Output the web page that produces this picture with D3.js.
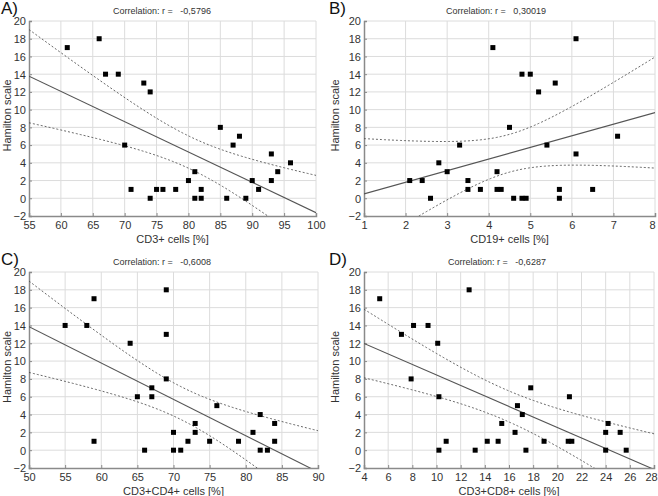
<!DOCTYPE html>
<html><head><meta charset="utf-8">
<script src="https://cdnjs.cloudflare.com/ajax/libs/d3/7.8.5/d3.min.js"></script>
<style>
body{margin:0;background:#fff;}
svg{display:block;font-family:"Liberation Sans",Arial,sans-serif;}
</style></head>
<body>
<svg id="c" width="658" height="496"></svg>
<script>
// Panel A: CD3+ cells
const cd3X = [61,66,67,69,73,74,70,71,74,75,76,78,80,81,81,82,82,85,86,87,88,89,90,91,93,93,94,96];
const cd3Y = [17,18,14,14,13,12,6,1,0,1,1,1,2,3,0,1,0,8,0,6,7,0,2,1,5,2,3,4];
// Panel B: CD19+ cells
const cd19X = [2.1,2.4,2.6,2.8,3.0,3.3,3.5,3.5,3.8,4.1,4.2,4.2,4.3,4.5,4.6,4.8,4.8,4.9,5.0,5.2,5.4,5.6,5.7,5.7,6.1,6.1,6.5,7.1];
const cd19Y = [2,2,0,4,3,6,2,1,1,17,3,1,1,8,0,14,0,0,14,12,6,13,1,0,18,5,1,7];
// Panel C: CD3+CD4+ cells
const cd4X = [55,58,59,59,64,65,66,67,67,69,69,69,70,70,71,72,73,73,75,76,79,81,82,82,83,84,84];
const cd4Y = [14,14,17,1,12,6,0,7,6,18,13,8,2,0,0,1,3,2,1,5,1,2,4,0,0,3,1];
// Panel D: CD3+CD8+ cells
const cd8X = [5.3,7.1,8.1,7.9,9.3,10.1,10.2,10.2,10.8,12.7,13.2,14.2,15.1,15.4,16.5,16.7,17.1,17.4,17.8,18.9,21.0,20.9,21.2,24.0,24.0,24.2,25.2,25.7];
const cd8Y = [17,13,14,8,14,12,6,0,1,18,0,1,1,3,2,5,4,0,7,1,6,1,1,2,0,3,2,0];

const panelLabels = ["A)","B)","C)","D)"];
const titles = ["Correlation: r =   -0,5796","Correlation: r =   0,30019","Correlation: r =   -0,6008","Correlation: r =   -0,6287"];
const xTitles = ["CD3+ cells [%]","CD19+ cells [%]","CD3+CD4+ cells [%]","CD3+CD8+ cells [%]"];
const yTitle = "Hamilton scale";
const xDomains = [[55,100],[1,8],[50,90],[4,28]];
const xTickVals = [
  [55,60,65,70,75,80,85,90,95,100],
  [1,2,3,4,5,6,7,8],
  [50,55,60,65,70,75,80,85,90],
  [4,6,8,10,12,14,16,18,20,22,24,26,28]
];
const yTickVals = [-2,0,2,4,6,8,10,12,14,16,18,20];

const xs = [cd3X,cd19X,cd4X,cd8X];
const ys = [cd3Y,cd19Y,cd4Y,cd8Y];

const layout = [
  {x0:29,x1:316,y0:21,y1:216,ox:0,oy:0,tx:162},
  {x0:364,x1:655,y0:21,y1:216,ox:328,oy:0,tx:496},
  {x0:29,x1:318,y0:272,y1:468,ox:0,oy:251,tx:162},
  {x0:364,x1:654,y0:272,y1:468,ox:328,oy:251,tx:497}
];

const tTable = {25:2.0595,26:2.0555};
const svg = d3.select("#c");
const axisCol = "#8a8a8a", gridCol = "#dcdcdc", textCol = "#333";

layout.forEach((L,i)=>{
  const X = xs[i], Y = ys[i], n = X.length;
  const x = d3.scaleLinear().domain(xDomains[i]).range([L.x0,L.x1]);
  const y = d3.scaleLinear().domain([-2,20]).range([L.y1,L.y0]);
  const g = svg.append("g");

  // grid
  g.selectAll(".gx").data(xTickVals[i].slice(1)).join("line")
    .attr("x1",d=>x(d)).attr("x2",d=>x(d)).attr("y1",L.y0).attr("y2",L.y1)
    .attr("stroke",gridCol).attr("stroke-width",1);
  g.selectAll(".gy").data(yTickVals.slice(1)).join("line")
    .attr("x1",L.x0).attr("x2",L.x1).attr("y1",d=>y(d)).attr("y2",d=>y(d))
    .attr("stroke",gridCol).attr("stroke-width",1);

  // axes
  const xa = g.append("g").attr("transform",`translate(0,${L.y1})`)
    .call(d3.axisBottom(x).tickValues(xTickVals[i]).tickSize(-3).tickPadding(5).tickFormat(d3.format("d")));
  const ya = g.append("g").attr("transform",`translate(${L.x0},0)`)
    .call(d3.axisLeft(y).tickValues(yTickVals).tickSize(-3).tickPadding(3).tickFormat(d3.format("d")));
  [xa,ya].forEach(a=>{
    a.select(".domain").attr("stroke",axisCol).attr("stroke-width",1.5);
    a.selectAll(".tick line").attr("stroke",axisCol);
    a.selectAll("text").attr("fill",textCol).attr("font-size",11).attr("font-family","Liberation Sans, Arial, sans-serif");
  });
  ya.selectAll("text").attr("dy","0.35em");
  // keep the last x tick label inside the window
  xa.selectAll(".tick text").filter(d=>x(d)+8>658).attr("dx",-3);

  // regression
  const mx = d3.mean(X), my = d3.mean(Y);
  let sxx=0,sxy=0;
  for(let k=0;k<n;k++){sxx+=(X[k]-mx)**2;sxy+=(X[k]-mx)*(Y[k]-my);}
  const b = sxy/sxx, a = my-b*mx;
  let sse=0; for(let k=0;k<n;k++){sse+=(Y[k]-a-b*X[k])**2;}
  const s = Math.sqrt(sse/(n-2));
  const t = tTable[n-2] || 2.06;

  const clipId = "clip"+i;
  svg.append("clipPath").attr("id",clipId).append("rect")
    .attr("x",L.x0).attr("y",L.y0).attr("width",L.x1-L.x0).attr("height",L.y1-L.y0);
  const cg = g.append("g").attr("clip-path",`url(#${clipId})`);

  const [d0,d1] = xDomains[i];
  const grid = d3.range(0,201).map(k=>d0+(d1-d0)*k/200);
  const fit = xv=>a+b*xv;
  const half = xv=>t*s*Math.sqrt(1/n+(xv-mx)**2/sxx);
  const line = d3.line().x(d=>x(d[0])).y(d=>y(d[1]));

  cg.append("path").datum([[d0,fit(d0)],[d1,fit(d1)]]).attr("d",line)
    .attr("fill","none").attr("stroke","#555").attr("stroke-width",1.1);
  cg.append("path").datum(grid.map(v=>[v,fit(v)+half(v)])).attr("d",line)
    .attr("fill","none").attr("stroke","#555").attr("stroke-width",0.9).attr("stroke-dasharray","2,2");
  cg.append("path").datum(grid.map(v=>[v,fit(v)-half(v)])).attr("d",line)
    .attr("fill","none").attr("stroke","#555").attr("stroke-width",0.9).attr("stroke-dasharray","2,2");

  // points
  g.selectAll(".pt").data(d3.range(n)).join("rect")
    .attr("x",k=>x(X[k])-2.5).attr("y",k=>y(Y[k])-2.5).attr("width",5).attr("height",5)
    .attr("fill","#000");

  // texts
  g.append("text").attr("x",L.ox+1).attr("y",L.oy+14).text(panelLabels[i])
    .attr("font-size",17).attr("fill","#111");
  g.append("text").attr("x",L.tx).attr("y",L.oy+14).attr("text-anchor","middle")
    .attr("font-size",9).attr("fill",textCol).style("white-space","pre").text(titles[i]);
  g.append("text").attr("x",(L.x0+L.x1)/2).attr("y",L.y1+27).attr("text-anchor","middle")
    .attr("font-size",11).attr("fill",textCol).text(xTitles[i]);
  g.append("text").attr("transform",`translate(${L.ox+11},${(L.y0+L.y1)/2-3}) rotate(-90)`)
    .attr("text-anchor","middle").attr("font-size",11).attr("fill",textCol).text(yTitle);
});
</script>
</body></html>
